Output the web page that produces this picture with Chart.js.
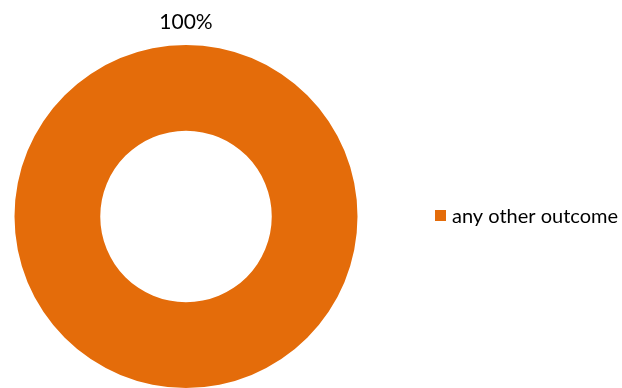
<!DOCTYPE html>
<html>
<head>
<meta charset="utf-8">
<script src="https://cdn.jsdelivr.net/npm/chart.js@4/dist/chart.umd.min.js"></script>
<style>
html,body{margin:0;padding:0;background:#fff;}
#c{display:block;}
</style>
</head>
<body>
<canvas id="c" width="622" height="388"></canvas>
<script>
const categories = ["any other outcome"];
const values = [100];
const valueLabels = ["100%"];
const colors = ["#E46C0A"];

const FONT = "Lato, 'Open Sans', sans-serif";

const labelPlugin = {
  id: 'labelPlugin',
  afterDraw(chart) {
    const ctx = chart.ctx;
    const meta = chart.getDatasetMeta(0);
    ctx.save();
    // value label above the ring
    meta.data.forEach((arc, i) => {
      const cx = arc.x;
      const top = arc.y - arc.outerRadius;
      ctx.fillStyle = '#000';
      ctx.font = '21px ' + FONT;
      ctx.textAlign = 'center';
      ctx.textBaseline = 'alphabetic';
      ctx.fillText(valueLabels[i], cx, top - 16);
    });
    // legend
    categories.forEach((cat, i) => {
      const x = 435, y = 210 + i * 24;
      ctx.fillStyle = colors[i];
      ctx.fillRect(x, y, 11, 11);
      ctx.fillStyle = '#000';
      ctx.font = '20px ' + FONT;
      ctx.textAlign = 'left';
      ctx.textBaseline = 'alphabetic';
      ctx.fillText(cat, 452, y + 13);
    });
    ctx.restore();
  }
};

new Chart(document.getElementById('c'), {
  type: 'doughnut',
  data: {
    labels: categories,
    datasets: [{
      data: values,
      backgroundColor: colors,
      borderWidth: 0
    }]
  },
  options: {
    responsive: false,
    animation: false,
    cutout: '50%',
    layout: { padding: { left: 14, top: 45, right: 264, bottom: 0 } },
    plugins: {
      legend: { display: false },
      tooltip: { enabled: false }
    }
  },
  plugins: [labelPlugin]
});
</script>
</body>
</html>
